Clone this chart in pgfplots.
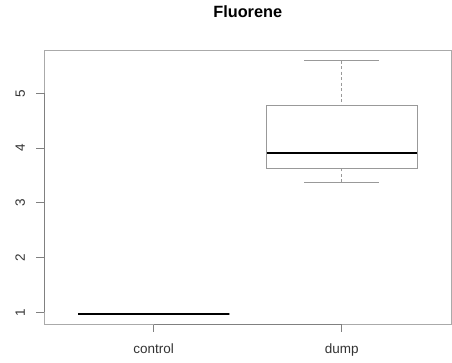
\documentclass[border=0pt]{standalone}
\usepackage{pgfplots}
\pgfplotsset{compat=1.18}
\usepgfplotslibrary{statistics}
\usepackage{fontspec}
\setmainfont{Liberation Sans}
\definecolor{framegray}{HTML}{AAAAAA}
\definecolor{axisgray}{HTML}{808080}
\definecolor{boxgray}{HTML}{999999}
\definecolor{labelgray}{HTML}{333333}

% R-style whiskers: dashed stem, solid staple
\pgfplotsset{
  boxplot/draw/lower whisker/.code={
    \draw[boxgray, line width=0.8pt, dash pattern=on 3pt off 2.5pt]
      (boxplot box cs:\pgfplotsboxplotvalue{lower whisker},0.5) --
      (boxplot box cs:\pgfplotsboxplotvalue{lower quartile},0.5);
    \draw[boxgray, line width=0.8pt]
      (boxplot whisker cs:\pgfplotsboxplotvalue{lower whisker},0) --
      (boxplot whisker cs:\pgfplotsboxplotvalue{lower whisker},1);
  },
  boxplot/draw/upper whisker/.code={
    \draw[boxgray, line width=0.8pt, dash pattern=on 3pt off 2.5pt]
      (boxplot box cs:\pgfplotsboxplotvalue{upper whisker},0.5) --
      (boxplot box cs:\pgfplotsboxplotvalue{upper quartile},0.5);
    \draw[boxgray, line width=0.8pt]
      (boxplot whisker cs:\pgfplotsboxplotvalue{upper whisker},0) --
      (boxplot whisker cs:\pgfplotsboxplotvalue{upper whisker},1);
  },
}

\begin{document}
\begin{tikzpicture}
\useasboundingbox (0pt,0pt) rectangle (452pt,363pt);
\begin{axis}[
  at={(44.5pt,39pt)}, anchor=south west,
  scale only axis, width=406.5pt, height=274pt,
  xmin=0.42, xmax=2.58, ymin=0.786, ymax=5.791,
  xtick={1,2}, xticklabels={control,dump},
  ytick={1,2,3,4,5},
  xtick pos=lower, ytick pos=left,
  axis line style={framegray, line width=0.8pt},
  tick style={axisgray, line width=0.8pt},
  tick align=outside, major tick length=8pt,
  ticklabel style={font=\fontsize{13.5}{16}\selectfont, text=labelgray},
  xticklabel style={yshift=-8pt},
  yticklabel style={xshift=-8pt, rotate=90, anchor=south},
  /pgf/number format/assume math mode=true,
  title={Fluorene},
  title style={font=\bfseries\fontsize{16.3}{19}\selectfont, at={(0.5,1)}, anchor=center, yshift=32pt},
  clip=false,
  boxplot/draw direction=y,
  boxplot/box extend=0.8,
  boxplot/whisker extend=0.4,
  boxplot/every box/.style={draw=boxgray, line width=0.8pt},
  boxplot/every median/.style={black, line width=2.2pt},
]
% control
\addplot[boxplot prepared={
    lower whisker=0.962, lower quartile=0.968,
    median=0.975, upper quartile=0.980, upper whisker=0.985,
    draw position=1}] coordinates {};
% dump
\addplot[boxplot prepared={
    lower whisker=3.374, lower quartile=3.623,
    median=3.915, upper quartile=4.773, upper whisker=5.596,
    draw position=2}] coordinates {};
% axis segments spanning the tick range
\draw[axisgray, line width=0.8pt] (axis cs:1,0.786) -- (axis cs:2,0.786);
\draw[axisgray, line width=0.8pt] (axis cs:0.42,1) -- (axis cs:0.42,5);
\end{axis}
\end{tikzpicture}
\end{document}
